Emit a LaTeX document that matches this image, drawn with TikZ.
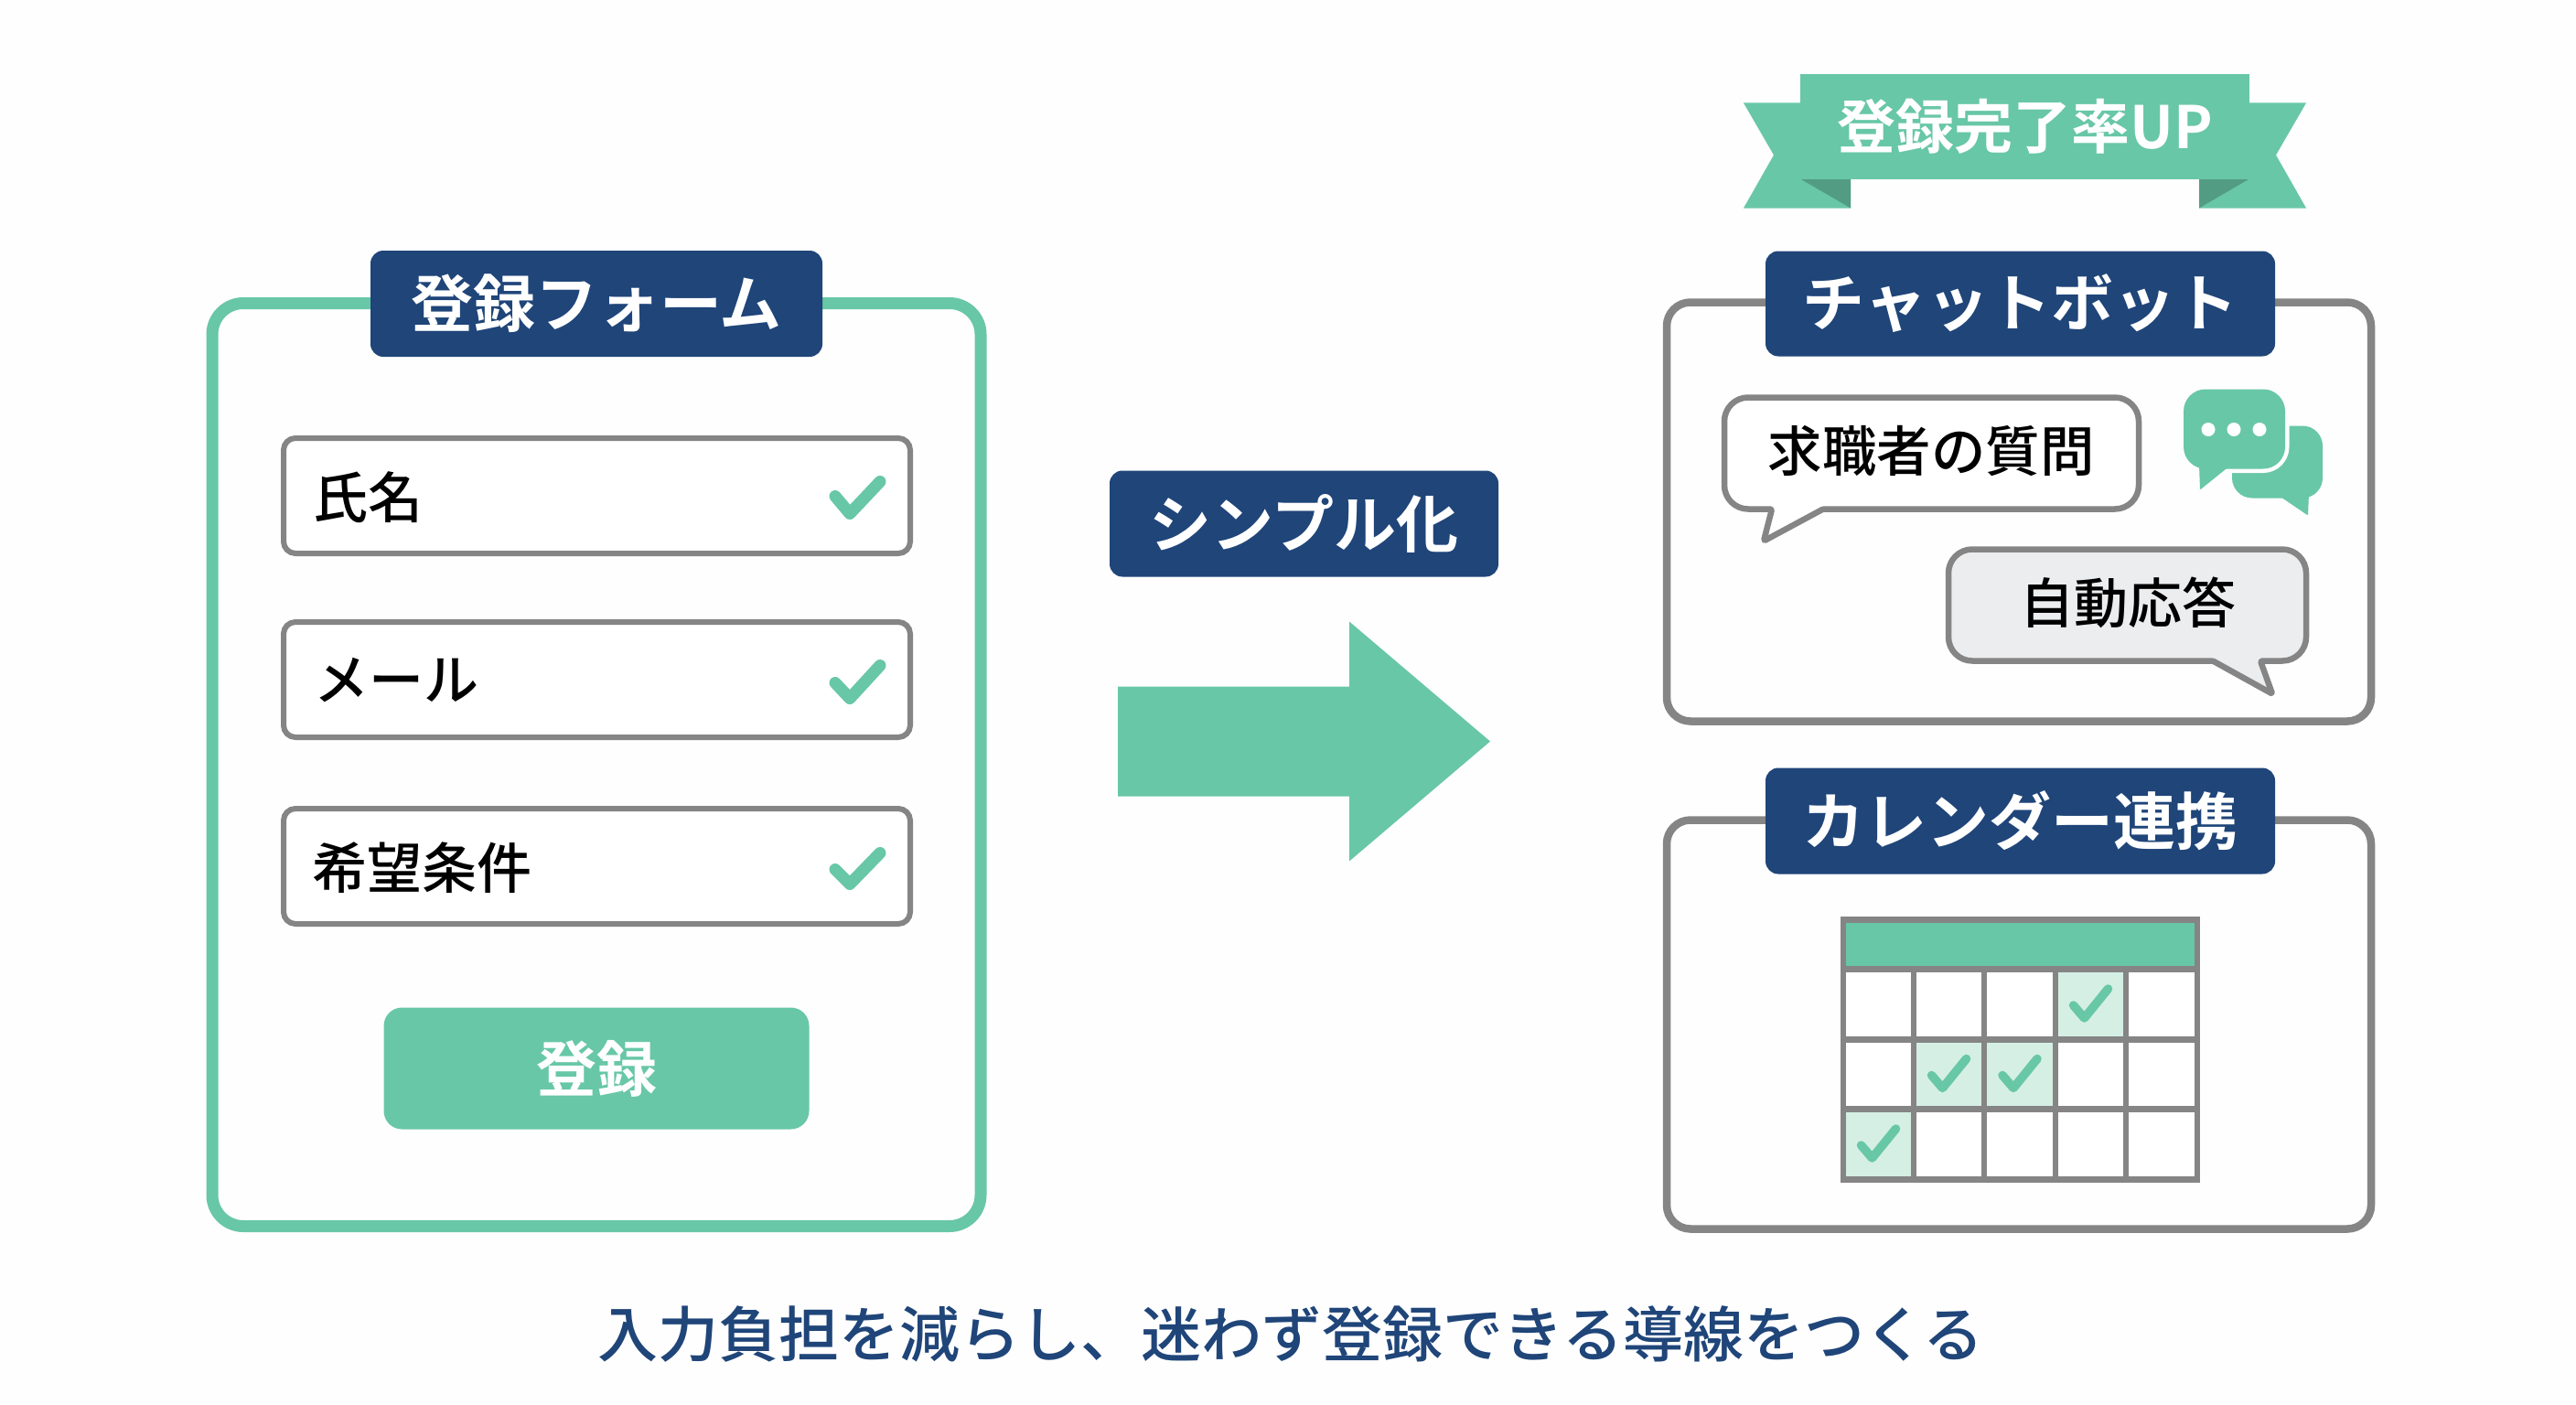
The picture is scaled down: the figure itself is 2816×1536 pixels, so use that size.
\documentclass[tikz,border=0pt]{standalone}
\usepackage{fontspec}
\newfontfamily\jp{Noto Sans CJK JP}[BoldFont={Noto Sans CJK JP Bold}]
\newfontfamily\jpm{Noto Sans CJK JP Medium}
\definecolor{mint}{HTML}{68C7A6}
\definecolor{mintdark}{HTML}{539C84}
\definecolor{mintpale}{HTML}{D5EFE5}
\definecolor{navy}{HTML}{1F4579}
\definecolor{steel}{HTML}{858585}
\definecolor{pale}{HTML}{ECEDEF}
\definecolor{paper}{HTML}{FEFEFE}
\newcommand{\fs}[1]{\fontsize{#1}{#1}\selectfont}
\tikzset{
  every node/.style={inner sep=0pt,outer sep=0pt},
  panel/.style={draw=steel,line width=8.5pt,fill=paper,rounded corners=26pt,minimum width=770pt},
  formpanel/.style={draw=mint,line width=13pt,fill=paper,rounded corners=34pt},
  navylabel/.style={fill=navy,rounded corners=14pt,text=white,font=\jp\bfseries\fs{68}},
  field/.style={draw=steel,line width=6pt,fill=white,rounded corners=13pt,minimum width=685pt,minimum height=126pt},
  fieldtext/.style={text=black,font=\jpm\fs{60},anchor=west},
  tick/.style={draw=mint,line width=13pt,line cap=round,line join=round},
  smalltick/.style={draw=mint,line width=9.5pt,line cap=round,line join=round},
  bubbleline/.style={draw=steel,line width=6.5pt,line join=round},
  gridline/.style={draw=steel,line width=6.5pt},
}
\begin{document}
\begin{tikzpicture}[x=1pt,y=-1pt]
\useasboundingbox (0,0) rectangle (2816,1536);
\fill[paper] (0,0) rectangle (2816,1536);
\begin{scope}[yshift=1.5pt]

% left form
\node[formpanel,minimum width=840pt,minimum height=1009pt] (form) at (652,837.5) {};
\node[navylabel,minimum width=494pt,minimum height=116pt] (formlabel) at (652,333.5) {\raisebox{1pt}{登録フォーム}};
\node[field] (f1) at (652.5,543.5) {};
\node[field] (f2) at (652.5,744.5) {};
\node[field] (f3) at (652.5,948.5) {};
\node[fieldtext] (t1) at (342,545) {氏名};
\node[fieldtext] (t2) at (343,745) {メール};
\node[fieldtext] (t3) at (341,950) {希望条件};
\draw[tick] (913,544) -- (929,563) -- (962,528);
\draw[tick] (913,748) -- (929,765) -- (962,729);
\draw[tick] (913,952) -- (929,968) -- (962,934);
\node[fill=mint,rounded corners=20pt,minimum width=465pt,minimum height=133pt,text=white,font=\jp\bfseries\fs{66}] (submit) at (652,1169.5) {登録};

% centre
\node[navylabel,minimum width=425pt,minimum height=116pt] (simple) at (1425.5,574) {\raisebox{1pt}{シンプル化}};
\fill[mint] (1222,752) -- (1475,752) -- (1475,681) -- (1629,812) -- (1475,943) -- (1475,872) -- (1222,872) -- cycle;

% ribbon
\fill[mint] (1968,114) -- (1906,114) -- (1939,171) -- (1906,229) -- (2023,229) -- (2023,197) -- (1968,197) -- cycle;
\fill[mint] (2459,114) -- (2521,114) -- (2488,171) -- (2521,229) -- (2404,229) -- (2404,197) -- (2459,197) -- cycle;
\fill[mintdark] (1968,197) -- (2023,197) -- (2023,229) -- cycle;
\fill[mintdark] (2459,197) -- (2404,197) -- (2404,229) -- cycle;
\node[fill=mint,minimum width=491pt,minimum height=115pt,text=white,font=\jp\bfseries\fs{64}] (ribbon) at (2213.5,140) {登録完了率UP};

% chatbot panel
\node[panel,minimum height=458pt] (chat) at (2207,561) {};
\node[navylabel,minimum width=557pt,minimum height=115pt] (chatlabel) at (2208.5,333.5) {チャットボット};
\draw[bubbleline,fill=white,rounded corners=26pt] (1885,436) -- (2338,436) -- (2338,558) [rounded corners=1.5pt] -- (1993,558) -- (1928,593) -- (1937,558) [rounded corners=26pt] -- (1885,558) -- cycle;
\node[text=black,font=\jpm\fs{59.5}] (q) at (2111,495) {求職者の質問};
\draw[bubbleline,fill=pale,rounded corners=26pt] (2130,602) -- (2521,602) -- (2521,724) [rounded corners=1.5pt] -- (2471,724) -- (2484,760) -- (2419,724) [rounded corners=26pt] -- (2130,724) -- cycle;
\node[text=black,font=\jpm\fs{59}] (a) at (2326,660) {自動応答};
% chat icon
\fill[mint,rounded corners=22pt] (2440,467) -- (2539,467) -- (2539,546) -- (2440,546) -- cycle;
\fill[mint,rounded corners=1pt] (2492,544) -- (2523,565) -- (2524,540) -- cycle;
\draw[paper,line width=9pt,fill=mint,rounded corners=24pt] (2387,427) -- (2498,427) -- (2498,514) -- (2387,514) -- cycle;
\fill[mint,rounded corners=1pt] (2404,510) -- (2405,537) -- (2436,512) -- cycle;
\fill[mint,rounded corners=24pt] (2387,427) -- (2498,427) -- (2498,514) -- (2387,514) -- cycle;
\fill[white] (2414,471) circle (7.5) (2442,471) circle (7.5) (2470,471) circle (7.5);

% calendar panel
\node[panel,minimum height=447pt] (cal) at (2207,1121.5) {};
\node[navylabel,minimum width=557pt,minimum height=116pt] (callabel) at (2208.5,899) {カレンダー連携};
\fill[mint] (2015,1007) rectangle (2402,1061);
\fill[white] (2015,1061) rectangle (2402,1291);
\fill[mintpale] (2247,1061) rectangle (2324,1138);
\fill[mintpale] (2092,1138) rectangle (2169,1214);
\fill[mintpale] (2169,1138) rectangle (2247,1214);
\fill[mintpale] (2015,1214) rectangle (2092,1291);
\draw[gridline] (2015,1007) rectangle (2402,1291);
\foreach \gx in {2092,2169,2247,2324} \draw[gridline] (\gx,1061) -- (\gx,1291);
\foreach \gy in {1061,1138,1214} \draw[gridline] (2015,\gy) -- (2402,\gy);
\foreach \cx/\cy in {2285.5/1099.5,2130.5/1176,2208/1176,2053.5/1252.5}
  \draw[smalltick,shift={(\cx,\cy)}] (-19,1) -- (-7,15) -- (19,-17);

% caption
\node[text=navy,font=\jpm\fs{66}] (caption) at (1411,1460) {入力負担を減らし、迷わず登録できる導線をつくる};
\end{scope}
\end{tikzpicture}
\end{document}
